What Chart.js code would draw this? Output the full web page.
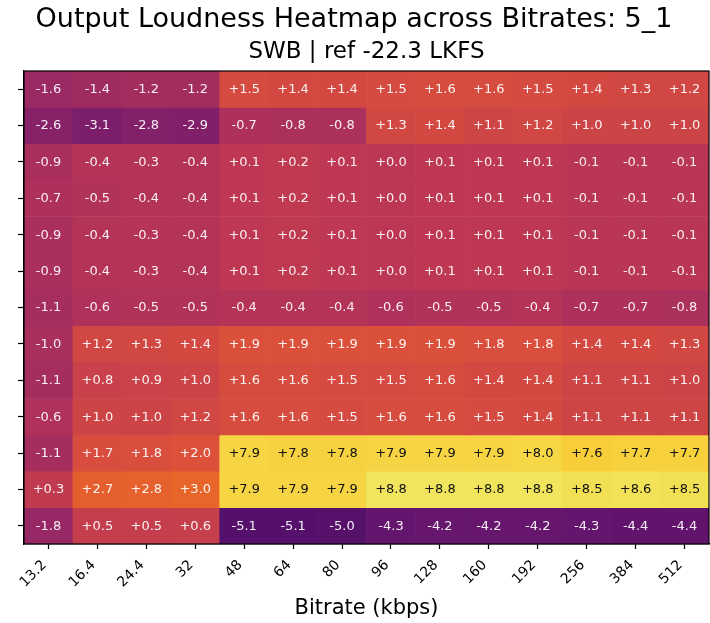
<!DOCTYPE html>
<html>
<head>
<meta charset="utf-8">
<script src="https://cdn.jsdelivr.net/npm/chart.js@4.4.1/dist/chart.umd.min.js"></script>
<style>
  html, body { margin: 0; padding: 0; background: #ffffff; }
  #wrap { width: 710px; height: 623px; }
</style>
</head>
<body>
<div id="wrap"><canvas id="c" width="710" height="623"></canvas></div>
<script>
// ---- data ----
const titleText = "Output Loudness Heatmap across Bitrates: 5_1";
const subtitleText = "SWB | ref -22.3 LKFS";
const xAxisLabel = "Bitrate (kbps)";
const bitrates = ["13.2", "16.4", "24.4", "32", "48", "64", "80", "96", "128", "160", "192", "256", "384", "512"];
const row0  = [-1.6, -1.4, -1.2, -1.2, 1.5, 1.4, 1.4, 1.5, 1.6, 1.6, 1.5, 1.4, 1.3, 1.2];
const row1  = [-2.6, -3.1, -2.8, -2.9, -0.7, -0.8, -0.8, 1.3, 1.4, 1.1, 1.2, 1.0, 1.0, 1.0];
const row2  = [-0.9, -0.4, -0.3, -0.4, 0.1, 0.2, 0.1, 0.0, 0.1, 0.1, 0.1, -0.1, -0.1, -0.1];
const row3  = [-0.7, -0.5, -0.4, -0.4, 0.1, 0.2, 0.1, 0.0, 0.1, 0.1, 0.1, -0.1, -0.1, -0.1];
const row4  = [-0.9, -0.4, -0.3, -0.4, 0.1, 0.2, 0.1, 0.0, 0.1, 0.1, 0.1, -0.1, -0.1, -0.1];
const row5  = [-0.9, -0.4, -0.3, -0.4, 0.1, 0.2, 0.1, 0.0, 0.1, 0.1, 0.1, -0.1, -0.1, -0.1];
const row6  = [-1.1, -0.6, -0.5, -0.5, -0.4, -0.4, -0.4, -0.6, -0.5, -0.5, -0.4, -0.7, -0.7, -0.8];
const row7  = [-1.0, 1.2, 1.3, 1.4, 1.9, 1.9, 1.9, 1.9, 1.9, 1.8, 1.8, 1.4, 1.4, 1.3];
const row8  = [-1.1, 0.8, 0.9, 1.0, 1.6, 1.6, 1.5, 1.5, 1.6, 1.4, 1.4, 1.1, 1.1, 1.0];
const row9  = [-0.6, 1.0, 1.0, 1.2, 1.6, 1.6, 1.5, 1.6, 1.6, 1.5, 1.4, 1.1, 1.1, 1.1];
const row10 = [-1.1, 1.7, 1.8, 2.0, 7.9, 7.8, 7.8, 7.9, 7.9, 7.9, 8.0, 7.6, 7.7, 7.7];
const row11 = [0.3, 2.7, 2.8, 3.0, 7.9, 7.9, 7.9, 8.8, 8.8, 8.8, 8.8, 8.5, 8.6, 8.5];
const row12 = [-1.8, 0.5, 0.5, 0.6, -5.1, -5.1, -5.0, -4.3, -4.2, -4.2, -4.2, -4.3, -4.4, -4.4];
const rows = [row0, row1, row2, row3, row4, row5, row6, row7, row8, row9, row10, row11, row12];
const vmin = -10, vmax = 10;

// ---- colormap (inferno-like) ----
const stops = [
  [0.0, [0, 0, 4]], [0.1, [22, 11, 57]], [0.2, [66, 10, 104]], [0.3, [106, 23, 110]],
  [0.4, [147, 38, 103]], [0.5, [188, 55, 84]], [0.6, [221, 81, 58]], [0.7, [243, 120, 25]],
  [0.8, [252, 165, 10]], [0.9, [246, 215, 70]], [0.94, [240, 229, 92]], [1.0, [252, 255, 164]]
];
function cmap(v) {
  let t = (v - vmin) / (vmax - vmin);
  t = Math.max(0, Math.min(1, t));
  for (let k = 0; k < stops.length - 1; k++) {
    const [t0, c0] = stops[k], [t1, c1] = stops[k + 1];
    if (t <= t1) {
      const f = (t - t0) / (t1 - t0);
      const c = c0.map((a, i) => Math.round(a + (c1[i] - a) * f));
      return `rgb(${c[0]},${c[1]},${c[2]})`;
    }
  }
  return 'rgb(252,255,164)';
}
function fmt(v) { return (v >= 0 ? '+' : '') + v.toFixed(1); }

const datasets = rows.map((r, i) => ({
  label: 'row' + i,
  data: r.map(() => [i, i + 1]),
  values: r,
  backgroundColor: r.map(cmap),
  borderWidth: 0,
  barPercentage: 1.0,
  categoryPercentage: 1.0,
  grouped: false
}));

const FONT = "'DejaVu Sans', sans-serif";

const overlay = {
  id: 'overlay',
  afterDatasetsDraw(chart) {
    const ctx = chart.ctx;
    ctx.save();
    ctx.font = "13px " + FONT;
    ctx.textAlign = 'center';
    ctx.textBaseline = 'middle';
    chart.data.datasets.forEach((ds, i) => {
      const meta = chart.getDatasetMeta(i);
      meta.data.forEach((bar, j) => {
        const v = ds.values[j];
        const p = bar.getProps(['x', 'y', 'base'], true);
        const cy = (p.y + p.base) / 2;
        ctx.fillStyle = v > 5 ? '#111111' : 'rgba(255,255,255,0.92)';
        ctx.fillText(fmt(v), p.x, cy + 0.5);
      });
    });
    // frame
    const a = chart.chartArea;
    ctx.strokeStyle = '#000000';
    ctx.lineWidth = 1.2;
    ctx.strokeRect(a.left, a.top, a.right - a.left, a.bottom - a.top);
    ctx.restore();
  },
  afterDraw(chart) {
    const ctx = chart.ctx;
    const a = chart.chartArea;
    ctx.save();
    ctx.fillStyle = '#000000';
    ctx.textAlign = 'center';
    ctx.textBaseline = 'middle';
    ctx.font = "27px " + FONT;
    ctx.fillText(titleText, 354, 20);
    ctx.font = "23px " + FONT;
    ctx.fillText(subtitleText, (a.left + a.right) / 2, 52);
    ctx.font = "21px " + FONT;
    ctx.fillText(xAxisLabel, (a.left + a.right) / 2, 609);
    ctx.restore();
  }
};

new Chart(document.getElementById('c'), {
  type: 'bar',
  data: { labels: bitrates, datasets },
  options: {
    responsive: false,
    animation: false,
    devicePixelRatio: 1,
    layout: { padding: { left: 18, right: 1, top: 71, bottom: 0 } },
    plugins: { legend: { display: false }, tooltip: { enabled: false }, title: { display: false } },
    scales: {
      x: {
        type: 'category',
        offset: true,
        grid: { display: true, drawOnChartArea: false, offset: false, tickLength: 5, color: '#000000', tickWidth: 1.2 },
        border: { display: true, color: '#000000', width: 1.2 },
        ticks: { minRotation: 45, maxRotation: 45, font: { family: FONT, size: 14 }, color: '#000000', padding: 8, labelOffset: -4, autoSkip: false },
        afterFit(scale) { scale.height = 79; }
      },
      y: {
        type: 'linear',
        min: 0,
        max: rows.length,
        reverse: true,
        afterBuildTicks(scale) { scale.ticks = rows.map((_, i) => ({ value: i + 0.5 })); },
        grid: { display: true, drawOnChartArea: false, tickLength: 6, color: '#000000', tickWidth: 1.2 },
        border: { display: true, color: '#000000', width: 1.2 },
        ticks: { display: false },
        afterFit(scale) { scale.width = 6; }
      }
    }
  },
  plugins: [overlay]
});
</script>
</body>
</html>
